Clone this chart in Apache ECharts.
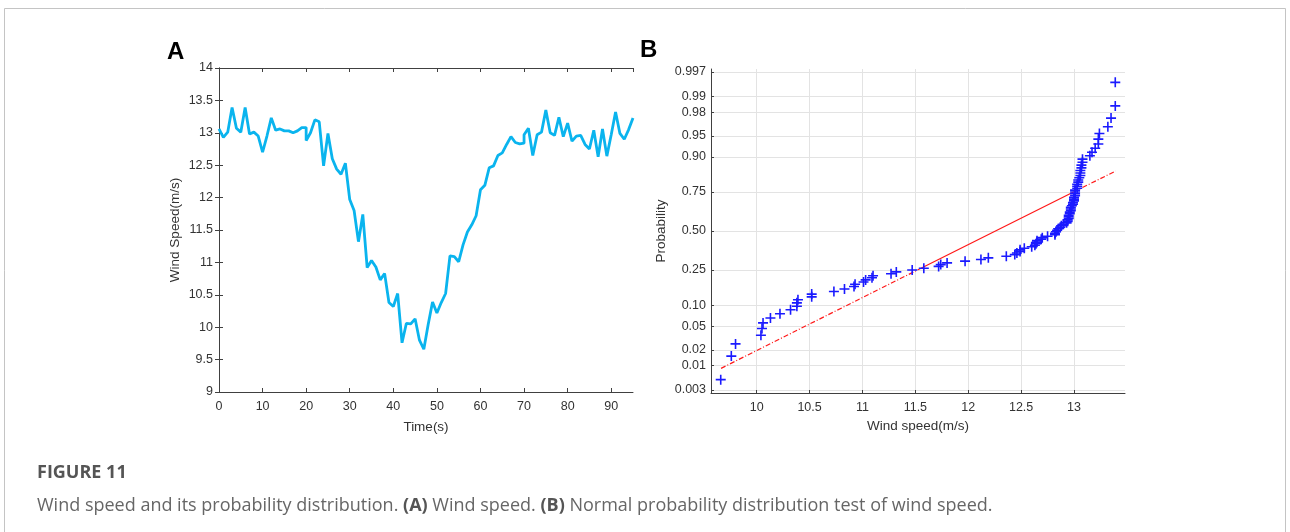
<!DOCTYPE html>
<html><head><meta charset="utf-8">
<script src="https://cdn.jsdelivr.net/npm/echarts@6/dist/echarts.min.js"></script>
<style>html,body{margin:0;padding:0;background:#fff}#c{width:1290px;height:532px}</style>
</head><body><div id="c"></div>
<script>
// ---------- Panel A: wind speed time series ----------
const timeA = [0,1,2,3,4,5,6,7,8,9,10,11,12,13,14,15,16,17,18,19,20,20,21,22,23,24,25,26,27,28,29,30,31,32,33,34,35,36,37,38,39,40,41,42,43,44,45,46,47,48,49,50,51,52,53,54,55,56,57,58,59,60,61,62,63,64,65,66,67,68,69,70,70,71,72,73,74,75,76,77,78,79,80,81,82,83,84,85,86,87,88,89,90,91,92,93,94,95];
const speedA = [13.06,12.93,13.01,13.39,13.07,13.01,13.39,12.98,13.01,12.95,12.70,12.95,13.23,13.04,13.06,13.03,13.03,13.00,13.03,13.08,13.08,12.88,13.00,13.20,13.17,12.49,12.99,12.60,12.44,12.36,12.53,11.97,11.80,11.32,11.74,10.92,11.03,10.93,10.73,10.83,10.38,10.32,10.52,9.76,10.06,10.05,10.13,9.80,9.66,10.04,10.39,10.22,10.38,10.52,11.10,11.09,11.01,11.27,11.47,11.58,11.72,12.12,12.19,12.46,12.49,12.65,12.69,12.82,12.94,12.85,12.83,12.84,12.97,13.07,12.65,12.97,13.01,13.35,13.00,12.96,13.24,12.94,13.15,12.87,12.95,12.96,12.82,12.75,13.04,12.63,13.06,12.64,12.97,13.32,12.99,12.90,13.05,13.23];

// ---------- Panel B: normal probability plot ----------
const speedB = [9.66,9.76,9.80,10.04,10.05,10.06,10.13,10.22,10.32,10.38,10.38,10.39,10.52,10.52,10.73,10.83,10.92,10.93,
  11.01,11.03,11.09,11.10,11.27,11.32,11.47,11.58,11.72,11.74,11.80,11.97,
  12.12,12.19,12.36,12.44,12.46,12.49,12.49,12.53,12.60,12.63,12.64,12.65,12.65,12.69,12.70,12.75,12.82,12.82,12.83,12.84,12.85,12.87,12.88,
  12.90,12.93,12.94,12.94,12.95,12.95,12.95,12.96,12.96,12.97,12.97,12.97,12.98,12.99,12.99,
  13.00,13.00,13.00,13.01,13.01,13.01,13.01,13.03,13.03,13.03,13.04,13.04,13.05,13.06,13.06,13.06,13.07,13.07,13.08,13.08,
  13.15,13.17,13.20,13.23,13.23,13.24,13.32,13.35,13.39,13.39];
const probB = [0.0051,0.0153,0.0255,0.0357,0.0459,0.0561,0.0663,0.0765,0.0867,0.0969,0.1071,0.1173,0.1276,0.1378,0.1480,0.1582,0.1684,0.1786,
  0.1888,0.1990,0.2092,0.2194,0.2296,0.2398,0.2500,0.2602,0.2704,0.2806,0.2908,0.3010,
  0.3112,0.3214,0.3316,0.3418,0.3520,0.3622,0.3724,0.3827,0.3929,0.4031,0.4133,0.4235,0.4337,0.4439,0.4541,0.4643,0.4745,0.4847,0.4949,0.5051,0.5153,0.5255,0.5357,
  0.5459,0.5561,0.5663,0.5765,0.5867,0.5969,0.6071,0.6173,0.6276,0.6378,0.6480,0.6582,0.6684,0.6786,0.6888,
  0.6990,0.7092,0.7194,0.7296,0.7398,0.7500,0.7602,0.7704,0.7806,0.7908,0.8010,0.8112,0.8214,0.8316,0.8418,0.8520,0.8622,0.8724,0.8827,0.8929,
  0.9031,0.9133,0.9235,0.9337,0.9439,0.9541,0.9643,0.9745,0.9847,0.9949];
// reference line: low end, first quartile, third quartile, high end
const refSpeed = [9.663, 11.52, 12.995, 13.394];
const refProb = [0.0088, 0.25, 0.75, 0.850];

const probTickLabels = ['0.003','0.01','0.02','0.05','0.10','0.25','0.50','0.75','0.90','0.95','0.98','0.99','0.997'];
const speedTicksB = [10, 10.5, 11, 11.5, 12, 12.5, 13];

// normal-probability (probit) axis scale
function probit(p){
  const a=[-3.969683028665376e+01,2.209460984245205e+02,-2.759285104469687e+02,1.383577518672690e+02,-3.066479806614716e+01,2.506628277459239e+00];
  const b=[-5.447609879822406e+01,1.615858368580409e+02,-1.556989798598866e+02,6.680131188771972e+01,-1.328068155288572e+01];
  const c=[-7.784894002430293e-03,-3.223964580411365e-01,-2.400758277161838e+00,-2.549732539343734e+00,4.374664141464968e+00,2.938163982698783e+00];
  const d=[7.784695709041462e-03,3.224671290700398e-01,2.445134137142996e+00,3.754408661907416e+00];
  const pl=0.02425, ph=1-pl; let q,r;
  if(p<pl){q=Math.sqrt(-2*Math.log(p));return (((((c[0]*q+c[1])*q+c[2])*q+c[3])*q+c[4])*q+c[5])/((((d[0]*q+d[1])*q+d[2])*q+d[3])*q+1);}
  if(p<=ph){q=p-0.5;r=q*q;return (((((a[0]*r+a[1])*r+a[2])*r+a[3])*r+a[4])*r+a[5])*q/(((((b[0]*r+b[1])*r+b[2])*r+b[3])*r+b[4])*r+1);}
  q=Math.sqrt(-2*Math.log(1-p));return -(((((c[0]*q+c[1])*q+c[2])*q+c[3])*q+c[4])*q+c[5])/((((d[0]*q+d[1])*q+d[2])*q+d[3])*q+1);
}
const probTickZ = probTickLabels.map(s => probit(parseFloat(s)));
function probLabel(v){
  for (let i=0;i<probTickZ.length;i++) if (Math.abs(probTickZ[i]-v)<1e-6) return probTickLabels[i];
  return '';
}

const FONT = "'Liberation Sans', Arial, sans-serif";
const CAPF = "'Open Sans', sans-serif";
const AX = '#404040';
const axisTxt = {color:'#333', fontFamily:FONT, fontSize:12.5};

const lineA = timeA.map((t,i)=>[t, speedA[i]]);
const ptsB = speedB.map((s,i)=>[s, probit(probB[i])]);
const refPts = refSpeed.map((s,i)=>[s, probit(refProb[i])]);

const chart = echarts.init(document.getElementById('c'), null, {renderer:'canvas'});
chart.setOption({
  animation:false,
  backgroundColor:'#fff',
  graphic:[
    {type:'rect', shape:{x:4.5,y:8.5,width:1281,height:600}, style:{fill:'none', stroke:'#c4c4c4', lineWidth:1}, silent:true, z:-10},
    {type:'text', left:167, top:40, style:{text:'A', font:'bold 24px '+FONT, fill:'#000'}},
    {type:'text', left:640, top:38, style:{text:'B', font:'bold 24px '+FONT, fill:'#000'}},
    {type:'text', left:37, top:464, style:{text:'FIGURE 11', font:'bold 18px '+CAPF, fill:'#555'}},
    {type:'text', left:37, top:497, style:{
      text:'Wind speed and its probability distribution. {b|(A)} Wind speed. {b|(B)} Normal probability distribution test of wind speed.',
      font:'18px '+CAPF, fill:'#666',
      rich:{b:{fontWeight:'bold', fontSize:18, fontFamily:CAPF, fill:'#555'}}}}
  ],
  grid:[
    {left:219, top:68, width:414, height:324},
    {left:711, top:69, width:414, height:324}
  ],
  xAxis:[
    {type:'value', gridIndex:0, min:0, max:95, interval:10, position:'bottom',
     name:'Time(s)', nameLocation:'middle', nameGap:28, nameTextStyle:{color:'#333', fontFamily:FONT, fontSize:13.5},
     axisLine:{lineStyle:{color:AX, width:1}}, axisTick:{inside:true, length:4, lineStyle:{color:AX}},
     axisLabel:Object.assign({margin:8, showMaxLabel:false}, axisTxt), splitLine:{show:false}},
    {type:'value', gridIndex:0, min:0, max:95, interval:10, position:'top',
     axisLine:{lineStyle:{color:AX, width:1}}, axisTick:{inside:true, length:4, lineStyle:{color:AX}},
     axisLabel:{show:false}, splitLine:{show:false}},
    {type:'value', gridIndex:1, min:9.568, max:13.482, position:'bottom',
     name:'Wind speed(m/s)', nameLocation:'middle', nameGap:26, nameTextStyle:{color:'#333', fontFamily:FONT, fontSize:13.5},
     axisLine:{onZero:false, lineStyle:{color:AX, width:1}},
     axisTick:{inside:true, length:3, lineStyle:{color:AX}, customValues:speedTicksB},
     axisLabel:Object.assign({margin:8, customValues:speedTicksB}, axisTxt),
     splitLine:{show:true, lineStyle:{color:'#e3e3e3', width:1}}}
  ],
  yAxis:[
    {type:'value', gridIndex:0, min:9, max:14, interval:0.5, position:'left',
     name:'Wind Speed(m/s)', nameLocation:'middle', nameGap:37, nameTextStyle:{color:'#333', fontFamily:FONT, fontSize:13.5},
     axisLine:{show:true, lineStyle:{color:AX, width:1}}, axisTick:{show:true, inside:true, length:4, lineStyle:{color:AX}},
     axisLabel:Object.assign({margin:6}, axisTxt), splitLine:{show:false}},
    {type:'value', gridIndex:0, min:9, max:14, interval:0.5, position:'right',
     axisLine:{show:true, lineStyle:{color:AX, width:1}}, axisTick:{show:true, inside:true, length:4, lineStyle:{color:AX}},
     axisLabel:{show:false}, splitLine:{show:false}},
    {type:'value', gridIndex:1, min:-2.8, max:2.8, position:'left',
     name:'Probability', nameLocation:'middle', nameGap:43, nameTextStyle:{color:'#333', fontFamily:FONT, fontSize:13.5},
     axisLine:{show:true, onZero:false, lineStyle:{color:AX, width:1}},
     axisTick:{show:true, inside:true, length:3, lineStyle:{color:AX}, customValues:probTickZ},
     axisLabel:Object.assign({margin:5, customValues:probTickZ, formatter:probLabel}, axisTxt),
     splitLine:{show:true, lineStyle:{color:'#e3e3e3', width:1}}}
  ],
  series:[
    {type:'line', xAxisIndex:0, yAxisIndex:0, data:lineA, showSymbol:false, symbol:'none',
     lineStyle:{color:'#0AB4EE', width:2.8}, z:3},
    {type:'line', xAxisIndex:2, yAxisIndex:2, data:refPts.slice(0,2), symbol:'none',
     lineStyle:{color:'#ff1a1a', width:1.2, type:[5,2,1,2]}, z:2},
    {type:'line', xAxisIndex:2, yAxisIndex:2, data:refPts.slice(1,3), symbol:'none',
     lineStyle:{color:'#ff1a1a', width:1.2}, z:2},
    {type:'line', xAxisIndex:2, yAxisIndex:2, data:refPts.slice(2,4), symbol:'none',
     lineStyle:{color:'#ff1a1a', width:1.2, type:[5,2,1,2]}, z:2},
    {type:'scatter', xAxisIndex:2, yAxisIndex:2, data:ptsB,
     symbol:'path://M4.2,0H5.8V4.2H10V5.8H5.8V10H4.2V5.8H0V4.2H4.2Z', symbolSize:10,
     itemStyle:{color:'#1a1aff', opacity:1}, z:4}
  ]
});
</script>
</body></html>
